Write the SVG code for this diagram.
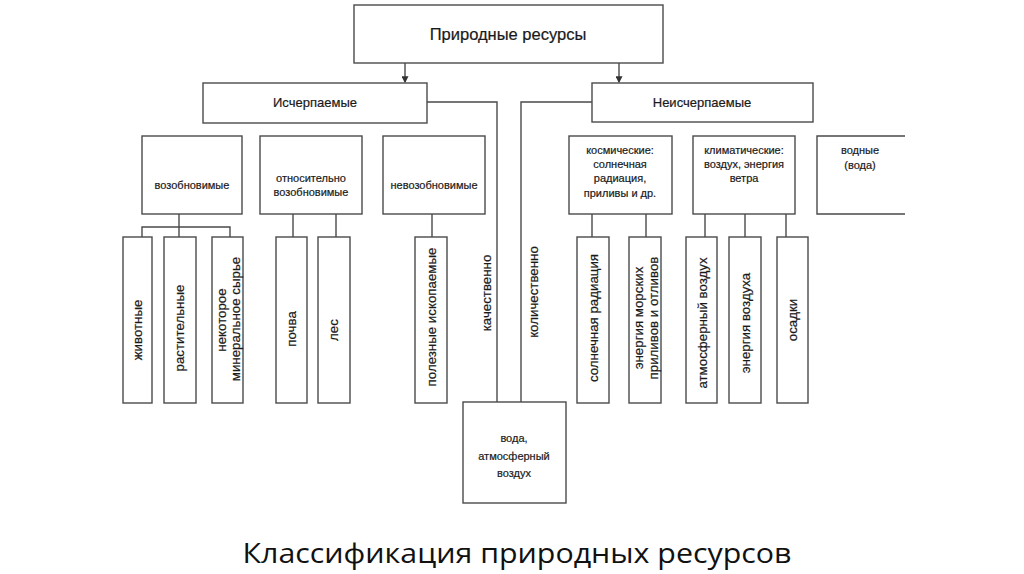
<svg xmlns="http://www.w3.org/2000/svg" width="1024" height="574" viewBox="0 0 1024 574">
<style>
.b{fill:#fff;stroke:#4a4a4a;stroke-width:1.4}
.c{fill:none;stroke:#4a4a4a;stroke-width:1.4}
text{font-family:"Liberation Sans",Arial,sans-serif;fill:#1a1a1a;text-anchor:middle;stroke:#1a1a1a;stroke-width:0.2}
.h{font-size:11px}
.v{font-size:13.3px;dominant-baseline:central}
.m{font-size:13px}
.t{font-size:16.5px}
</style>
<defs>
<marker id="ar" viewBox="0 0 6 6" refX="5" refY="3" markerWidth="5" markerHeight="5" orient="auto">
<path d="M0,0 L6,3 L0,6 z" fill="#333"/>
</marker>
</defs>
<rect width="1024" height="574" fill="#fff"/>
<g id="connectors">
<line class="c" x1="405" y1="63" x2="405" y2="82" marker-end="url(#ar)"/>
<line class="c" x1="619" y1="63" x2="619" y2="82" marker-end="url(#ar)"/>
<polyline class="c" points="427,102 497,102 497,402"/>
<polyline class="c" points="592,102 521,102 521,402"/>
<polyline class="c" points="179,214 179,227"/>
<polyline class="c" points="142,237 142,227 230,227 230,237"/>
<line class="c" x1="179" y1="227" x2="179" y2="237"/>
<line class="c" x1="293" y1="214" x2="293" y2="237"/>
<line class="c" x1="336" y1="214" x2="336" y2="237"/>
<line class="c" x1="432" y1="214" x2="432" y2="237"/>
<line class="c" x1="592" y1="214" x2="592" y2="237"/>
<line class="c" x1="646" y1="214" x2="646" y2="237"/>
<line class="c" x1="705" y1="214" x2="705" y2="237"/>
<line class="c" x1="745" y1="214" x2="745" y2="237"/>
<line class="c" x1="786" y1="214" x2="786" y2="237"/>
</g>
<g id="n-root"><rect class="b" x="354" y="5" width="309" height="58"/><text class="t" x="508" y="40">Природные ресурсы</text></g>
<g id="n-isch"><rect class="b" x="203" y="83" width="224" height="40"/><text class="m" x="315" y="107">Исчерпаемые</text></g>
<g id="n-neisch"><rect class="b" x="592" y="83" width="221" height="39"/><text class="m" x="702" y="107">Неисчерпаемые</text></g>
<g id="n-vozob"><rect class="b" x="142" y="136" width="100" height="78"/><text class="h" x="192" y="189">возобновимые</text></g>
<g id="n-otn"><rect class="b" x="260" y="136" width="102" height="78"/><text class="h" x="311" y="182">относительно</text><text class="h" x="311" y="196">возобновимые</text></g>
<g id="n-nevoz"><rect class="b" x="383" y="136" width="102" height="78"/><text class="h" x="434" y="189">невозобновимые</text></g>
<g id="n-kosm"><rect class="b" x="569" y="136" width="103" height="78"/><text class="h" x="620" y="154">космические:</text><text class="h" x="620" y="168">солнечная</text><text class="h" x="620" y="182">радиация,</text><text class="h" x="620" y="197">приливы и др.</text></g>
<g id="n-klim"><rect class="b" x="693" y="136" width="102" height="78"/><text class="h" x="744" y="154">климатические:</text><text class="h" x="744" y="168">воздух, энергия</text><text class="h" x="744" y="182">ветра</text></g>
<g id="n-vodn"><path class="c" d="M905,136 H817 V214 H905"/><text class="h" x="860" y="154">водные</text><text class="h" x="860" y="169">(вода)</text></g>
<g id="n-zhiv"><rect class="b" x="123" y="237" width="29" height="166"/><text class="v" transform="translate(137,330) rotate(-90)">животные</text></g>
<g id="n-rast"><rect class="b" x="164" y="237" width="32" height="166"/><text class="v" transform="translate(179,328) rotate(-90)">растительные</text></g>
<g id="n-nek"><rect class="b" x="212" y="237" width="31" height="166"/><text class="v" transform="translate(221,320) rotate(-90)">некоторое</text><text class="v" transform="translate(235,319) rotate(-90)">минеральное сырье</text></g>
<g id="n-pochva"><rect class="b" x="276" y="237" width="31" height="166"/><text class="v" transform="translate(291,329) rotate(-90)">почва</text></g>
<g id="n-les"><rect class="b" x="318" y="237" width="32" height="166"/><text class="v" transform="translate(333,330) rotate(-90)">лес</text></g>
<g id="n-polez"><rect class="b" x="415" y="237" width="32" height="166"/><text class="v" transform="translate(431,317) rotate(-90)">полезные ископаемые</text></g>
<g id="n-kach"><text class="v" transform="translate(486,293) rotate(-90)">качественно</text></g>
<g id="n-kol"><text class="v" transform="translate(533,292) rotate(-90)">количественно</text></g>
<g id="n-voda"><rect class="b" x="463" y="402" width="103" height="101"/><text class="h" x="514" y="442">вода,</text><text class="h" x="514" y="460">атмосферный</text><text class="h" x="514" y="477">воздух</text></g>
<g id="n-soln"><rect class="b" x="577" y="237" width="32" height="166"/><text class="v" transform="translate(593,318) rotate(-90)">солнечная радиация</text></g>
<g id="n-energ"><rect class="b" x="629" y="237" width="32" height="166"/><text class="v" transform="translate(638,318) rotate(-90)">энергия морских</text><text class="v" transform="translate(653,318) rotate(-90)">приливов и отливов</text></g>
<g id="n-atm"><rect class="b" x="686" y="237" width="31" height="166"/><text class="v" transform="translate(702,323) rotate(-90)">атмосферный воздух</text></g>
<g id="n-envoz"><rect class="b" x="729" y="237" width="32" height="166"/><text class="v" transform="translate(745,323) rotate(-90)">энергия воздуха</text></g>
<g id="n-osad"><rect class="b" x="777" y="237" width="31" height="166"/><text class="v" transform="translate(792,320) rotate(-90)">осадки</text></g>
<text x="517" y="563" style="font-family:'Open Sans','Noto Sans',sans-serif;font-size:28px;fill:#111;stroke:none" textLength="549" lengthAdjust="spacingAndGlyphs">Классификация природных ресурсов</text>
</svg>
